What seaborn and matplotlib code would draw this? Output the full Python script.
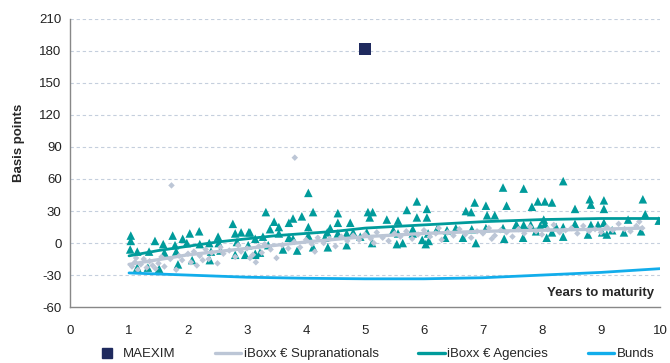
import numpy as np
import pandas as pd
import matplotlib.pyplot as plt
import seaborn as sns
from matplotlib.lines import Line2D

# MAEXIM bond
maexim_x = [5.0]
maexim_y = [182]

# iBoxx € Supranationals (diamonds)
supra_x = [1.05, 1.10, 1.15, 1.20, 1.25, 1.30, 1.35, 1.40, 1.50, 1.55,
           1.60, 1.70, 1.72, 1.80, 1.85, 1.90, 2.00, 2.05, 2.10, 2.15,
           2.20, 2.30, 2.35, 2.40, 2.50, 2.55, 2.60, 2.70, 2.80, 2.85,
           2.90, 3.00, 3.10, 3.20, 3.25, 3.30, 3.40, 3.50, 3.60, 3.70,
           3.80, 3.81, 3.90, 4.00, 4.10, 4.20, 4.30, 4.40, 4.50, 4.60,
           4.70, 4.80, 4.90, 5.00, 5.10, 5.20, 5.30, 5.40, 5.50, 5.60,
           5.70, 5.80, 5.90, 6.00, 6.10, 6.20, 6.30, 6.40, 6.50, 6.60,
           6.70, 6.80, 6.90, 7.00, 7.10, 7.20, 7.30, 7.40, 7.50, 7.60,
           7.70, 7.80, 7.90, 8.00, 8.10, 8.20, 8.30, 8.40, 8.50, 8.60,
           8.70, 8.80, 8.90, 9.00, 9.10, 9.20, 9.30, 9.40, 9.50, 9.60,
           9.70, 1.12, 1.45, 2.25, 3.05, 3.15, 4.15, 5.15, 6.25, 7.15,
           9.65]
supra_y = [-22, -18, -25, -20, -15, -23, -17, -21, -19, -13,
           -22, -15, 54, -25, -12, -16, -10, -18, -8, -21,
           -12, -6, -15, -9, -19, -4, -10, -7, -13, -2,
           -8, -5, -11, -3, -9, -1, -6, -14, -2, -5,
           1, 80, -4, 3, -1, 5, 0, 4, -3, 6,
           2, 7, 3, 8, 4, 10, 5, 2, 9, 6,
           11, 4, 8, 12, 6, 9, 3, 10, 7, 13,
           8, 5, 11, 9, 14, 7, 12, 10, 6, 13,
           9, 15, 11, 8, 13, 17, 10, 12, 14, 9,
           16, 11, 13, 10, 15, 12, 18, 13, 11, 16,
           14, -14, -24, -16, -14, -18, -8, 0, 14, 4,
           20]

# iBoxx € Agencies (triangles)
agency_x = [1.03, 1.02, 1.14, 1.14, 1.44, 1.58, 1.74, 1.34, 1.32, 1.51,
            1.78, 1.91, 2.03, 2.19, 1.80, 1.83, 1.98, 2.07, 2.36, 2.51,
            2.52, 2.76, 2.80, 2.90, 3.03, 2.83, 2.80, 3.02, 2.97, 2.37,
            2.39, 3.14, 1.03, 2.55, 2.20, 1.60,
            4.04, 3.32, 3.46, 3.39, 3.54, 3.71, 3.78, 3.93, 4.12, 4.04,
            4.54, 4.54, 4.75, 5.05, 5.13, 5.08, 5.37, 3.05, 3.14, 3.27,
            3.54, 3.71, 3.78, 4.04, 4.36, 4.32, 4.54, 4.69, 4.80, 4.92,
            5.03, 3.36, 3.61, 3.85, 4.12, 4.37, 4.69, 5.12, 3.14, 3.22,
            4.41,
            7.34, 7.40, 5.88, 5.71, 6.05, 6.05, 5.88, 5.56, 6.86, 6.71,
            6.80, 7.05, 7.07, 7.20, 7.56, 5.48, 5.56, 5.81, 5.81, 6.07,
            6.22, 6.39, 6.54, 6.81, 7.05, 7.34, 5.54, 5.64, 5.97, 6.03,
            6.08, 6.36, 6.66, 6.88, 7.36,
            8.36, 7.69, 7.93, 8.05, 8.17, 7.83, 8.81, 8.83, 9.05, 9.05,
            8.56, 9.71, 9.75, 9.98, 9.46, 8.03, 7.58, 7.69, 7.81, 7.97,
            8.05, 8.24, 8.36, 8.56, 8.83, 8.95, 9.05, 7.68, 7.90, 8.08,
            8.17, 8.36, 8.78, 9.02, 9.10, 9.19, 9.39, 9.68]
agency_y = [7, -6, -8, -23, 2, -1, 7, -8, -23, -24,
            -2, 4, 9, 11, -8, -20, 0, -16, 0, 6,
            0, 18, 9, 10, 10, 1, -11, -2, -11, -16,
            -8, -10, 2, -7, -1, -9,
            47, 29, 20, 13, 15, 19, 23, 25, 29, 15,
            28, 19, 19, 29, 29, 24, 22, 10, 4, 6,
            9, 5, 4, 7, 10, 5, 9, 9, 10, 6,
            10, -2, -6, -7, -4, -4, -2, 0, -11, -9,
            14,
            52, 35, 39, 31, 32, 24, 24, 21, 38, 30,
            29, 35, 26, 26, 17, 12, 9, 13, 9, 9,
            13, 12, 14, 13, 14, 14, -1, 0, 3, -1,
            2, 5, 5, 0, 4,
            58, 51, 39, 39, 38, 34, 41, 36, 40, 32,
            32, 41, 27, 21, 22, 22, 16, 17, 17, 16,
            18, 15, 15, 18, 17, 17, 19, 5, 11, 5,
            10, 6, 8, 10, 8, 12, 10, 11]

# trend curves
supra_line_x = [1, 2, 3, 4, 5, 6, 7, 8, 9, 9.7]
supra_line_y = [-20, -11, -5, 1, 6, 9, 11, 12, 13, 14]
agency_line_x = [1, 1.5, 2, 2.5, 3, 3.5, 4, 4.5, 5, 5.5, 6, 7, 8, 9, 10]
agency_line_y = [-12, -7, -3, 1, 4, 7, 9, 11, 14, 15.5, 17, 20, 22, 23, 23]
bunds_x = [1, 2, 3, 4, 5, 6, 7, 8, 9, 10]
bunds_y = [-28, -30, -32, -33, -33.5, -33.5, -32.5, -30, -27.5, -24]

c_maexim = '#1F2A5E'
c_supra = '#BCC6D6'
c_agency = '#009B9B'
c_bunds = '#12ADEB'

sns.set_style('white')
plt.rcParams['font.family'] = ['Liberation Sans', 'DejaVu Sans']
plt.rcParams['axes.unicode_minus'] = False

fig = plt.figure(figsize=(6.7, 3.63), dpi=100)
ax = fig.add_axes([0.1045, 0.154, 0.8805, 0.794])

sns.scatterplot(x=agency_x, y=agency_y, marker='^', s=38, color=c_agency,
                edgecolor='none', ax=ax, zorder=3)
sns.scatterplot(x=supra_x, y=supra_y, marker='D', s=11, color=c_supra,
                edgecolor='none', ax=ax, zorder=3)
sns.lineplot(x=supra_line_x, y=supra_line_y, color=c_supra, lw=2.4, ax=ax, zorder=4)
sns.lineplot(x=agency_line_x, y=agency_line_y, color=c_agency, lw=2.0, ax=ax, zorder=4)
sns.lineplot(x=bunds_x, y=bunds_y, color=c_bunds, lw=2.0, ax=ax, zorder=4)
sns.scatterplot(x=maexim_x, y=maexim_y, marker='s', s=80, color=c_maexim,
                edgecolor='none', ax=ax, zorder=5)

ax.set_xlim(0, 10)
ax.set_ylim(-60, 210)
ax.set_xticks(range(0, 11))
ax.set_yticks(range(-60, 211, 30))
ax.tick_params(axis='both', labelsize=9.5, colors='#222222', length=0, pad=6)
ax.tick_params(axis='x', length=5, color='#888888', direction='out', pad=8)

for y in range(-30, 211, 30):
    ax.axhline(y, color='#C5CFDD', lw=0.8, ls=(0, (3, 2.5)), zorder=1)

for side in ['top', 'right']:
    ax.spines[side].set_visible(False)
for side in ['left', 'bottom']:
    ax.spines[side].set_color('#888888')
    ax.spines[side].set_linewidth(1.0)

ax.set_ylabel('Basis points', fontsize=9.5, fontweight='bold')
ax.yaxis.set_label_coords(-0.077, 0.57)
ax.text(9.9, -47, 'Years to maturity', fontsize=9.5, fontweight='bold',
        ha='right', va='center')

handles = [
    Line2D([], [], marker='s', ls='none', color=c_maexim, markersize=6.5),
    Line2D([], [], color=c_supra, lw=2.4),
    Line2D([], [], color=c_agency, lw=2.4),
    Line2D([], [], color=c_bunds, lw=2.4),
]
labels = ['MAEXIM', 'iBoxx € Supranationals', 'iBoxx € Agencies', 'Bunds']
fig.legend(handles, labels, loc='lower center', bbox_to_anchor=(0.558, -0.025),
           ncol=4, frameon=False, fontsize=9.5, handlelength=2.0,
           handletextpad=0.2, columnspacing=3.0)

fig.savefig('out.png', dpi=100)
